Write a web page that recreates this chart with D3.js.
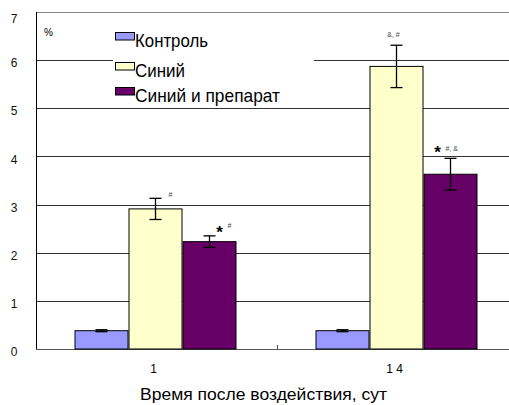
<!DOCTYPE html>
<html><head><meta charset="utf-8">
<script src="https://cdn.jsdelivr.net/npm/d3@7"></script>
<style>body{margin:0;background:#fff}svg{display:block}text{font-family:"Liberation Sans",Arial,sans-serif}</style>
</head><body>
<svg id="c" width="509" height="405"></svg>
<script>
const categories = ["1", "1 4"];
const seriesNames = ["Контроль", "Синий", "Синий и препарат"];
const seriesColors = ["#9999FF", "#FFFFCC", "#660066"];
const control = [0.38, 0.38];
const blue = [2.91, 5.87];
const bluePrep = [2.23, 3.63];
const controlErr = [0.02, 0.02];
const blueErr = [0.22, 0.44];
const bluePrepErr = [0.12, 0.33];
const yTicks = [0, 1, 2, 3, 4, 5, 6, 7];
const annotations = [
  {cat: 0, s: 1, star: false, text: "#"},
  {cat: 0, s: 2, star: true, text: "#"},
  {cat: 1, s: 1, star: false, text: "&, #"},
  {cat: 1, s: 2, star: true, text: "#, &"}
];

const values = [control, blue, bluePrep];
const errs = [controlErr, blueErr, bluePrepErr];
const svg = d3.select("#c");
const L = 36, R = 518, T = 12, B = 349;
const y = d3.scaleLinear().domain([0, 7]).range([B, T]);
const x0 = d3.scaleBand().domain(categories).range([L, R]);
const barW = 54;
const x1 = d3.scaleBand().domain(d3.range(3)).range([0, barW * 3]);
const groupX = c => x0(c) + (x0.bandwidth() - barW * 3) / 2 - 1;

// gridlines
svg.append("g").selectAll("line").data(yTicks.filter(d => d > 0)).join("line")
  .attr("x1", L).attr("x2", R).attr("y1", d => Math.round(y(d)) + 0.5).attr("y2", d => Math.round(y(d)) + 0.5)
  .attr("stroke", d => d === 7 ? "#888" : "#333").attr("stroke-width", 1);

// legend background (covers gridlines)
svg.append("rect").attr("x", 113).attr("y", 28).attr("width", 201).attr("height", 72).attr("fill", "#fff");

// axes lines
svg.append("line").attr("x1", L + 0.5).attr("x2", L + 0.5).attr("y1", T).attr("y2", B + 0.5).attr("stroke", "#000");
svg.append("line").attr("x1", L).attr("x2", R).attr("y1", B + 0.5).attr("y2", B + 0.5).attr("stroke", "#555");
svg.append("line").attr("x1", x0(categories[1]) + 0.5).attr("x2", x0(categories[1]) + 0.5)
  .attr("y1", B - 4).attr("y2", B).attr("stroke", "#555");

// y tick labels
svg.append("g").selectAll("text").data(yTicks).join("text")
  .attr("x", 14).attr("y", d => y(d) + 3 + (d === 7 ? 4 : 0)).attr("dy", "0.35em").attr("text-anchor", "middle")
  .attr("font-size", 12).attr("fill", "#111").text(d => d);

svg.append("text").attr("x", 44).attr("y", 36).attr("font-size", 10).text("%");

// bars
const bars = [];
categories.forEach((c, ci) => values.forEach((v, si) => bars.push({c, ci, si, v: v[ci], e: errs[si][ci]})));
svg.append("g").selectAll("rect").data(bars).join("rect")
  .attr("x", d => groupX(d.c) + x1(d.si) + 0.5).attr("width", barW - 1)
  .attr("y", d => y(d.v)).attr("height", d => B - y(d.v))
  .attr("fill", d => seriesColors[d.si]).attr("stroke", "#000").attr("stroke-width", 1);

// error bars
const eg = svg.append("g").attr("stroke", "#000").attr("stroke-width", 1.3);
bars.forEach(d => {
  const cx = groupX(d.c) + x1(d.si) + barW / 2;
  eg.append("line").attr("x1", cx).attr("x2", cx).attr("y1", y(d.v + d.e)).attr("y2", y(d.v - d.e));
  [d.v + d.e, d.v - d.e].forEach(v => eg.append("line").attr("x1", cx - 6).attr("x2", cx + 6).attr("y1", y(v)).attr("y2", y(v)));
});

// annotation placement styles (offsets from error-bar top centre)
const annStyle = [
  {tx: 15, ty: -3, anchor: "middle"},
  {sx: 10, sy: -5, tx: 18, ty: -10, anchor: "start"},
  {tx: -3, ty: -10, anchor: "middle"},
  {sx: -13, sy: -7, tx: -5, ty: -9, anchor: "start"}
];
annotations.forEach((a, i) => {
  const d = bars.find(b => b.ci === a.cat && b.si === a.s);
  const cx = groupX(d.c) + x1(d.si) + barW / 2;
  const top = y(d.v + d.e);
  const st = annStyle[i];
  if (a.star) {
    svg.append("text").attr("x", cx + st.sx).attr("y", top + st.sy + 7).attr("font-size", 17)
      .attr("font-weight", "bold").attr("text-anchor", "middle").text("*");
  }
  svg.append("text").attr("x", cx + st.tx).attr("y", top + st.ty + 2).attr("font-size", 7)
    .attr("fill", "#444").attr("text-anchor", st.anchor).text(a.text);
});

// x labels
svg.append("g").selectAll("text").data(categories).join("text")
  .attr("x", d => x0(d) + x0.bandwidth() / 2 - 3).attr("y", 373).attr("text-anchor", "middle")
  .attr("font-size", 12).text(d => d);
svg.append("text").attr("x", 140).attr("y", 400).attr("font-size", 17).attr("textLength", 247)
  .attr("lengthAdjust", "spacingAndGlyphs").text("Время после воздействия, сут");

// legend
const lw = [73, 50, 145];
const ly = [32, 62, 87];
seriesNames.forEach((n, i) => {
  svg.append("rect").attr("x", 115.5).attr("y", ly[i] + 0.5).attr("width", 19).attr("height", 7.5)
    .attr("fill", seriesColors[i]).attr("stroke", "#000");
  svg.append("text").attr("x", 135).attr("y", ly[i] + 15).attr("font-size", 19).attr("textLength", lw[i])
    .attr("lengthAdjust", "spacingAndGlyphs").text(n);
});
</script>
</body></html>
